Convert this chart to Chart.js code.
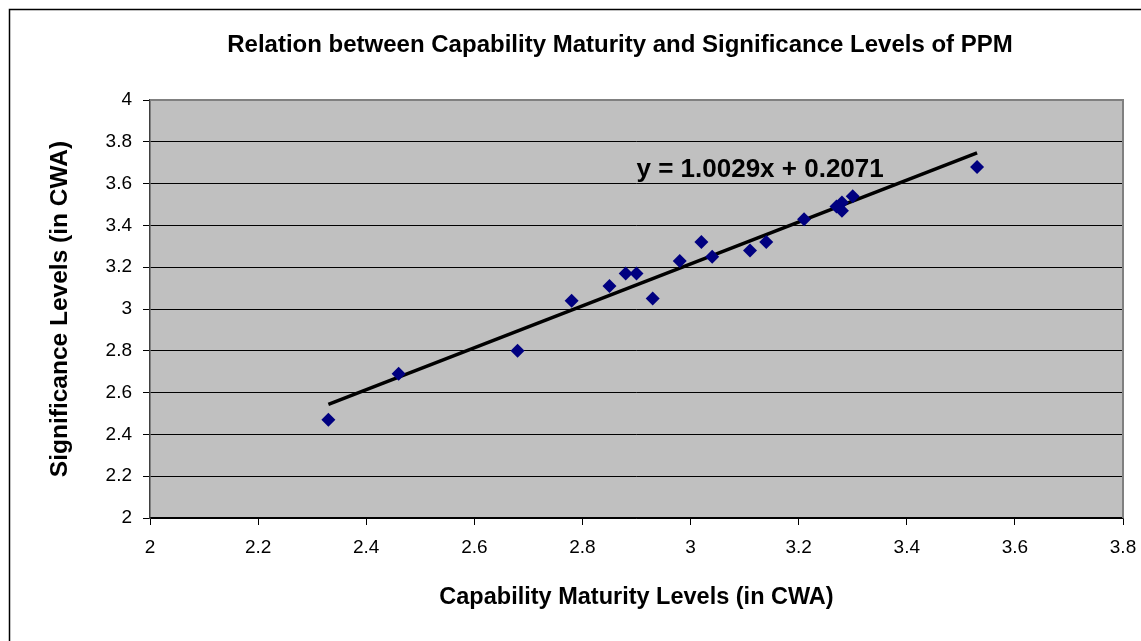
<!DOCTYPE html>
<html>
<head>
<meta charset="utf-8">
<script src="https://cdn.jsdelivr.net/npm/chart.js@4"></script>
<style>
  html, body { margin: 0; padding: 0; background: #fff; }
  #wrap { position: relative; width: 1141px; height: 641px; }
</style>
</head>
<body>
<div id="wrap"><canvas id="ppmChart" width="1141" height="641"></canvas></div>
<script>
// capability maturity (x) vs significance level (y), both in CWA
const maturity     = [2.33, 2.46, 2.68, 2.78, 2.85, 2.88, 2.90, 2.93, 2.98, 3.02, 3.04, 3.11, 3.14, 3.21, 3.27, 3.28, 3.28, 3.30, 3.53];
const significance = [2.47, 2.69, 2.80, 3.04, 3.11, 3.17, 3.17, 3.05, 3.23, 3.32, 3.25, 3.28, 3.32, 3.43, 3.49, 3.51, 3.47, 3.54, 3.68];

// linear trend from the chart's equation
const trendSlope = 1.0029;
const trendIntercept = 0.2071;
const trendLabel = "y = 1.0029x + 0.2071";

const xTickLabels = ["2", "2.2", "2.4", "2.6", "2.8", "3", "3.2", "3.4", "3.6", "3.8"];
const yTickLabels = ["2", "2.2", "2.4", "2.6", "2.8", "3", "3.2", "3.4", "3.6", "3.8", "4"];

const chartTitle = "Relation between Capability Maturity and Significance Levels of PPM";
const xTitle = "Capability Maturity Levels (in CWA)";
const yTitle = "Significance Levels (in CWA)";

(function() {
    const points = maturity.map((x, i) => ({ x: x, y: significance[i] }));
    const xMin = Math.min(...maturity), xMax = Math.max(...maturity);
    const trend = [xMin, xMax].map(x => ({ x: x, y: trendSlope * x + trendIntercept }));

    // grey plot area, outer frame, title and equation
    const excelLook = {
        id: 'excelLook',
        beforeDraw(chart) {
            const { ctx, chartArea: a } = chart;
            ctx.save();
            ctx.fillStyle = '#fff';
            ctx.fillRect(0, 0, chart.width, chart.height);
            ctx.strokeStyle = '#000';
            ctx.lineWidth = 1.5;
            ctx.beginPath();
            ctx.moveTo(9.5, chart.height);
            ctx.lineTo(9.5, 9.5);
            ctx.lineTo(chart.width, 9.5);
            ctx.stroke();
            ctx.fillStyle = '#c0c0c0';
            ctx.fillRect(a.left, a.top, a.right - a.left, a.bottom - a.top);
            ctx.fillStyle = '#000';
            ctx.font = 'bold 24px "Liberation Sans", Arial, sans-serif';
            ctx.textAlign = 'center';
            ctx.textBaseline = 'middle';
            ctx.fillText(chartTitle, 620, 45);
            ctx.restore();
        },
        afterDatasetsDraw(chart) {
            const { ctx, chartArea: a, scales } = chart;
            ctx.save();
            ctx.strokeStyle = '#808080';
            ctx.lineWidth = 2;
            ctx.beginPath();
            ctx.moveTo(a.left, a.top);
            ctx.lineTo(a.right, a.top);
            ctx.lineTo(a.right, a.bottom);
            ctx.stroke();
            ctx.fillStyle = '#000';
            ctx.font = 'bold 26px "Liberation Sans", Arial, sans-serif';
            ctx.textAlign = 'left';
            ctx.textBaseline = 'middle';
            ctx.fillText(trendLabel, scales.x.getPixelForValue(2.9), scales.y.getPixelForValue(3.665));
            ctx.restore();
        }
    };

    new Chart(document.getElementById('ppmChart'), {
        type: 'scatter',
        data: {
            datasets: [
                { data: points, pointStyle: 'rectRot', pointRadius: 7, pointHoverRadius: 7,
                  backgroundColor: '#000080', borderColor: '#000080', borderWidth: 0 },
                { type: 'line', data: trend, borderColor: '#000', borderWidth: 3.5,
                  pointRadius: 0, fill: false, tension: 0 }
            ]
        },
        options: {
            responsive: false,
            animation: false,
            layout: { padding: { left: 0, top: 100, right: 18, bottom: 0 } },
            plugins: { legend: { display: false }, tooltip: { enabled: false } },
            scales: {
                x: {
                    type: 'linear', min: 2, max: 3.8,
                    afterFit: s => { s.height = 123; s.paddingLeft = 0; s.paddingRight = 0; },
                    ticks: { stepSize: 0.2, color: '#000', padding: 11,
                             font: { family: '"Liberation Sans", Arial', size: 19 },
                             callback: (v, i) => xTickLabels[i] },
                    grid: { drawOnChartArea: false, drawTicks: true, tickLength: 7, color: '#000' },
                    border: { color: '#000', width: 1.5 },
                    title: { display: true, text: xTitle, color: '#000',
                             font: { family: '"Liberation Sans", Arial', size: 23.5, weight: 'bold' },
                             padding: { top: 0, bottom: 29 } }
                },
                y: {
                    type: 'linear', min: 2, max: 4,
                    afterFit: s => { s.width = 150; s.paddingTop = 0; s.paddingBottom = 0; },
                    ticks: { stepSize: 0.2, color: '#000', padding: 11,
                             font: { family: '"Liberation Sans", Arial', size: 19 },
                             callback: (v, i) => yTickLabels[i] },
                    grid: { color: '#000', lineWidth: 1, tickLength: 7 },
                    border: { color: '#404040', width: 1.5 },
                    title: { display: true, text: yTitle, color: '#000',
                             font: { family: '"Liberation Sans", Arial', size: 24.5, weight: 'bold' },
                             padding: { top: 46, bottom: 0 } }
                }
            }
        },
        plugins: [excelLook]
    });
})();
</script>
</body>
</html>
